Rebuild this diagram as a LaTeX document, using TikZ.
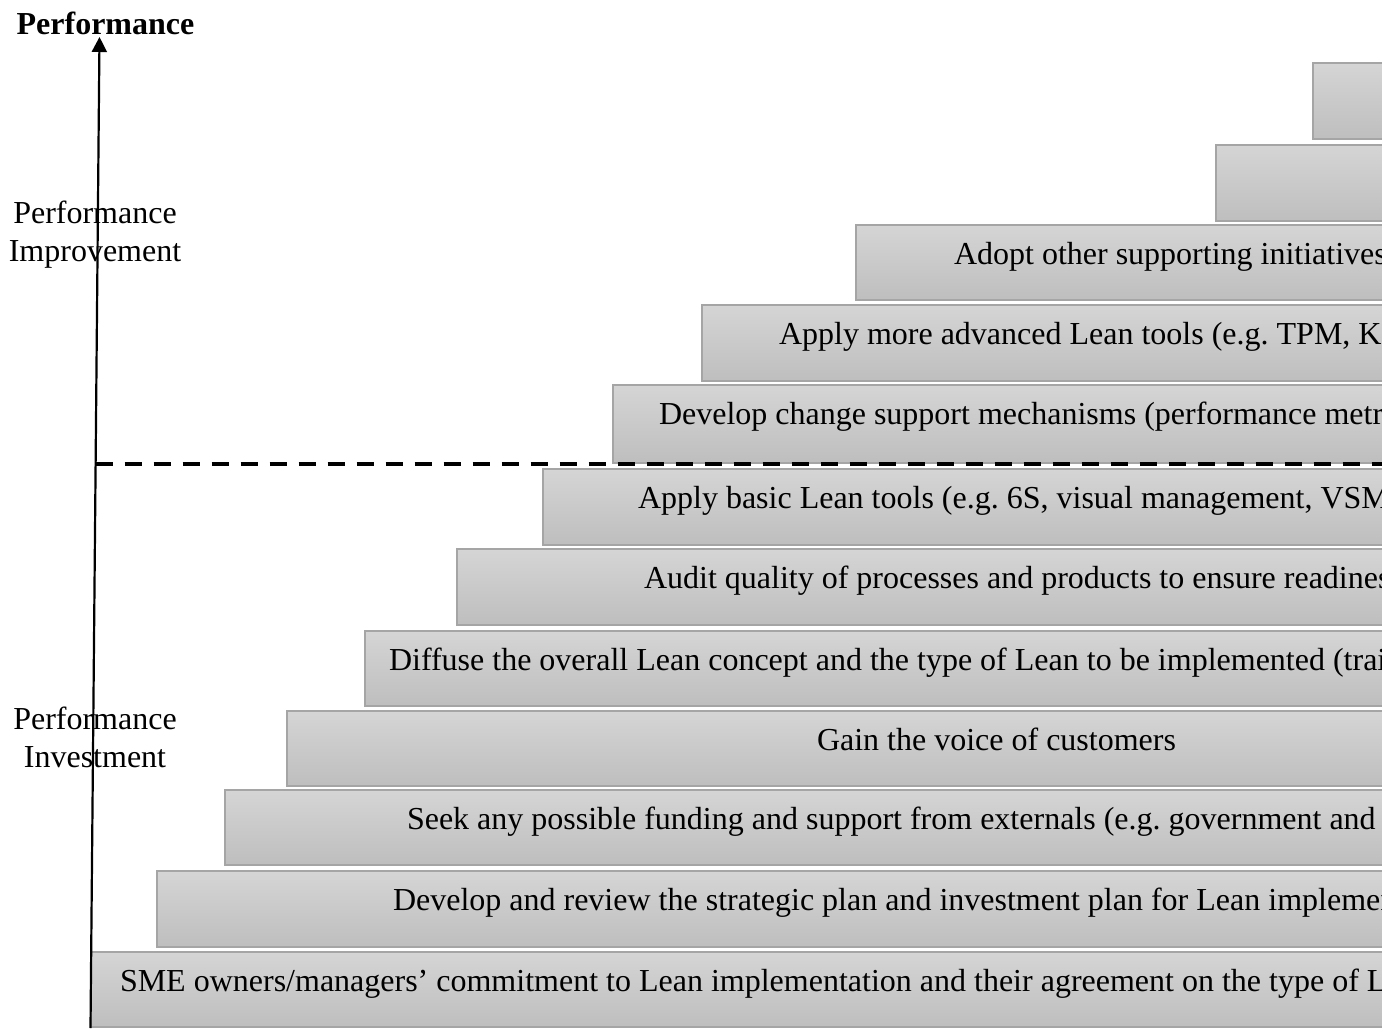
\documentclass[tikz,border=0pt]{standalone}
\usepackage{fontspec}
\setmainfont{Liberation Serif}
\usetikzlibrary{arrows.meta}
\frenchspacing
\definecolor{boxtop}{RGB}{213,213,213}
\definecolor{boxbot}{RGB}{190,190,190}
\definecolor{boxline}{RGB}{165,165,165}
\tikzset{
  stepbox/.style={rectangle, anchor=north west, inner sep=0pt, outer sep=0pt,
    top color=boxtop, bottom color=boxbot, draw=boxline, line width=2pt},
  steptext/.style={anchor=base west, inner sep=0pt, outer sep=0pt,
    font=\fontsize{32}{38}\selectfont, text=black},
  sidelabel/.style={anchor=base, inner sep=0pt, outer sep=0pt,
    font=\fontsize{32}{38}\selectfont, text=black},
  axisline/.style={line width=2.2pt, -{Triangle[length=15pt,width=15pt]}},
  splitline/.style={line width=4pt, dash pattern=on 17pt off 12pt}
}
\begin{document}
\begin{tikzpicture}[x=1pt,y=-1pt]
\useasboundingbox (0,0) rectangle (1382,1030);
\begin{scope}
\clip (0,0) rectangle (1382,1030);
% boxes
\node[stepbox, minimum width=120pt, minimum height=76pt] (b1) at (1313,63) {};
\node[stepbox, minimum width=220pt, minimum height=76pt] (b2) at (1216,145) {};
\node[stepbox, minimum width=580pt, minimum height=75pt] (b3) at (856,225) {};
\node[stepbox, minimum width=730pt, minimum height=76pt] (b4) at (702,305) {};
\node[stepbox, minimum width=820pt, minimum height=78pt] (b5) at (613,385) {};
\node[stepbox, minimum width=890pt, minimum height=76pt] (b6) at (543,469) {};
\node[stepbox, minimum width=980pt, minimum height=76pt] (b7) at (457,549) {};
\node[stepbox, minimum width=1070pt, minimum height=75pt] (b8) at (365,631) {};
\node[stepbox, minimum width=1150pt, minimum height=75pt] (b9) at (287,711) {};
\node[stepbox, minimum width=1210pt, minimum height=75pt] (b10) at (225,790) {};
\node[stepbox, minimum width=1280pt, minimum height=76pt] (b11) at (157,871) {};
\node[stepbox, minimum width=1340pt, minimum height=75pt] (b12) at (91,952) {};
% texts
\node[steptext] (t3) at (954,264.5) {Adopt other supporting initiatives};
\node[steptext] (t4) at (779,344.5) {Apply more advanced Lean tools (e.g. TPM, K};
\node[steptext] (t5) at (659,424.5) {Develop change support mechanisms (performance metr};
\node[steptext] (t6) at (638,508.5) {Apply basic Lean tools (e.g. 6S, visual management, VSM};
\node[steptext] (t7) at (644,588.5) {Audit quality of processes and products to ensure readines};
\node[steptext] (t8) at (389,670.5) {Diffuse the overall Lean concept and the type of Lean to be implemented (trai};
\node[steptext] (t9) at (817,750) {Gain the voice of customers};
\node[steptext] (t10) at (407,829.5) {Seek any possible funding and support from externals (e.g. government and};
\node[steptext] (t11) at (393,910.5) {Develop and review the strategic plan and investment plan for Lean implemen};
\node[steptext] (t12) at (120,991.5) {SME owners/managers’ commitment to Lean implementation and their agreement on the type of L};
% axis
\coordinate (origin) at (90.5,1028);
\coordinate (axtop) at (99.5,37);
\coordinate (dashstart) at (95.6,464);
\coordinate (dashend) at (1400,464);
\draw[splitline] (dashstart) -- (dashend);
\draw[axisline] (origin) -- (axtop);
\end{scope}
% labels
\node[sidelabel, font=\fontsize{32}{38}\selectfont\bfseries] (ptitle) at (105.5,35) {Performance};
\node[sidelabel] (imp1) at (95,223) {Performance};
\node[sidelabel] (imp2) at (95,261) {Improvement};
\node[sidelabel] (inv1) at (95,729) {Performance};
\node[sidelabel] (inv2) at (95,767) {Investment};
\end{tikzpicture}
\end{document}
